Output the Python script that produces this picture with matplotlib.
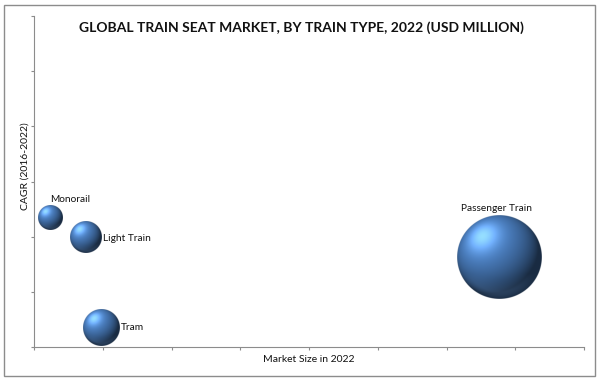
import numpy as np
import matplotlib
matplotlib.use('Agg')
import matplotlib.pyplot as plt
from matplotlib.patches import Rectangle

# chart data
train_types = ['Monorail', 'Light Train', 'Tram', 'Passenger Train']
market_size = [116, 378, 487, 3382]      # USD million, 2022
cagr = [2.33, 2.0, 0.35, 1.64]          # CAGR 2016-2022
bubble_size = [82, 145, 184, 1000]

title = 'GLOBAL TRAIN SEAT MARKET, BY TRAIN TYPE, 2022 (USD MILLION)'
xlabel = 'Market Size in 2022'
ylabel = 'CAGR (2016-2022)'

plt.rcParams['font.family'] = ['Lato', 'DejaVu Sans']

W, H, DPI = 600, 382, 100
fig = plt.figure(figsize=(W / DPI, H / DPI), dpi=DPI)
fig.patch.set_facecolor('white')

# outer frame of the picture
fig.add_artist(Rectangle((4 / W, 1 - 376 / H), 591 / W, 371 / H, transform=fig.transFigure,
                         fill=False, edgecolor='#8c8c8c', linewidth=1.0))

ax_l, ax_r, ax_t, ax_b = 34, 584, 16, 347
ax = fig.add_axes([ax_l / W, 1 - ax_b / H, (ax_r - ax_l) / W, (ax_b - ax_t) / H])
xmin, xmax, ymin, ymax = 0, 4000, 0, 6
ax.set_xlim(xmin, xmax)
ax.set_ylim(ymin, ymax)
ax.set_xticks(np.arange(xmin, xmax + 1, 500))
ax.set_yticks(np.arange(ymin, ymax + 1, 1))
ax.set_xticklabels([])
ax.set_yticklabels([])
for s in ['top', 'right']:
    ax.spines[s].set_visible(False)
for s in ['left', 'bottom']:
    ax.spines[s].set_color('#8c8c8c')
    ax.spines[s].set_linewidth(0.8)
ax.tick_params(length=2.5, width=0.8, color='#8c8c8c', direction='out')


# shaded sphere image, like the 3-D bubbles
def sphere_image(n=240):
    u = np.linspace(-1, 1, n)
    uu, vv = np.meshgrid(u, -u)
    r = np.sqrt(uu ** 2 + vv ** 2)
    z = np.sqrt(np.clip(1 - r ** 2, 0, 1))
    light = np.array([-0.40, 0.50, 0.77])
    light = light / np.linalg.norm(light)
    diff = np.clip(uu * light[0] + vv * light[1] + z * light[2], 0, 1)
    base = np.array([72, 122, 185]) / 255
    rgb = base[None, None, :] * (0.36 + 0.78 * diff[..., None])
    spec = diff ** 14
    rgb = rgb + 0.38 * spec[..., None] * np.array([0.7, 0.86, 1.0])
    # soft light reflected on the lower rim
    rim = np.clip((-vv - 0.4) / 0.6, 0, 1) * np.clip((r - 0.5) / 0.5, 0, 1) * np.clip((1 - r) * 6, 0, 1)
    rgb = rgb + 0.22 * rim[..., None] * np.array([0.6, 0.75, 0.95])
    rgb = np.clip(rgb, 0, 1)
    alpha = np.clip((1 - r) * n / 2 + 0.5, 0, 1)
    return np.dstack([rgb, alpha])


img = sphere_image()
px_x = (xmax - xmin) / (ax_r - ax_l)
px_y = (ymax - ymin) / (ax_b - ax_t)
max_r = 42
for x, y, s in zip(market_size, cagr, bubble_size):
    r = max_r * np.sqrt(s / max(bubble_size))
    ax.imshow(img, extent=[x - r * px_x, x + r * px_x, y - r * px_y, y + r * px_y],
              aspect='auto', zorder=3, interpolation='antialiased')

# data labels
label_pos = [(0, 14, 'left', 'bottom'), (17, -2, 'left', 'center'),
             (20, 0, 'left', 'center'), (-3, 44, 'center', 'bottom')]
for name, x, y, (dx, dy, ha, va) in zip(train_types, market_size, cagr, label_pos):
    ax.annotate(name, (x, y), xytext=(dx, dy), textcoords='offset pixels',
                ha=ha, va=va, fontsize=7.3, color='#111111', zorder=4)

ax.set_xlim(xmin, xmax)
ax.set_ylim(ymin, ymax)

fig.text(0.5 * (81 + 522) / W, 1 - 28 / H, title, ha='center', va='center',
         fontsize=10, fontweight='bold', color='#111111')
fig.text((ax_l + ax_r) / 2 / W, 1 - 360 / H, xlabel, ha='center', va='center',
         fontsize=7.5, color='#111111')
fig.text(25 / W, 1 - 166 / H, ylabel, ha='center', va='center', rotation=90,
         fontsize=7.5, color='#111111')

fig.savefig('out.png', dpi=DPI)
